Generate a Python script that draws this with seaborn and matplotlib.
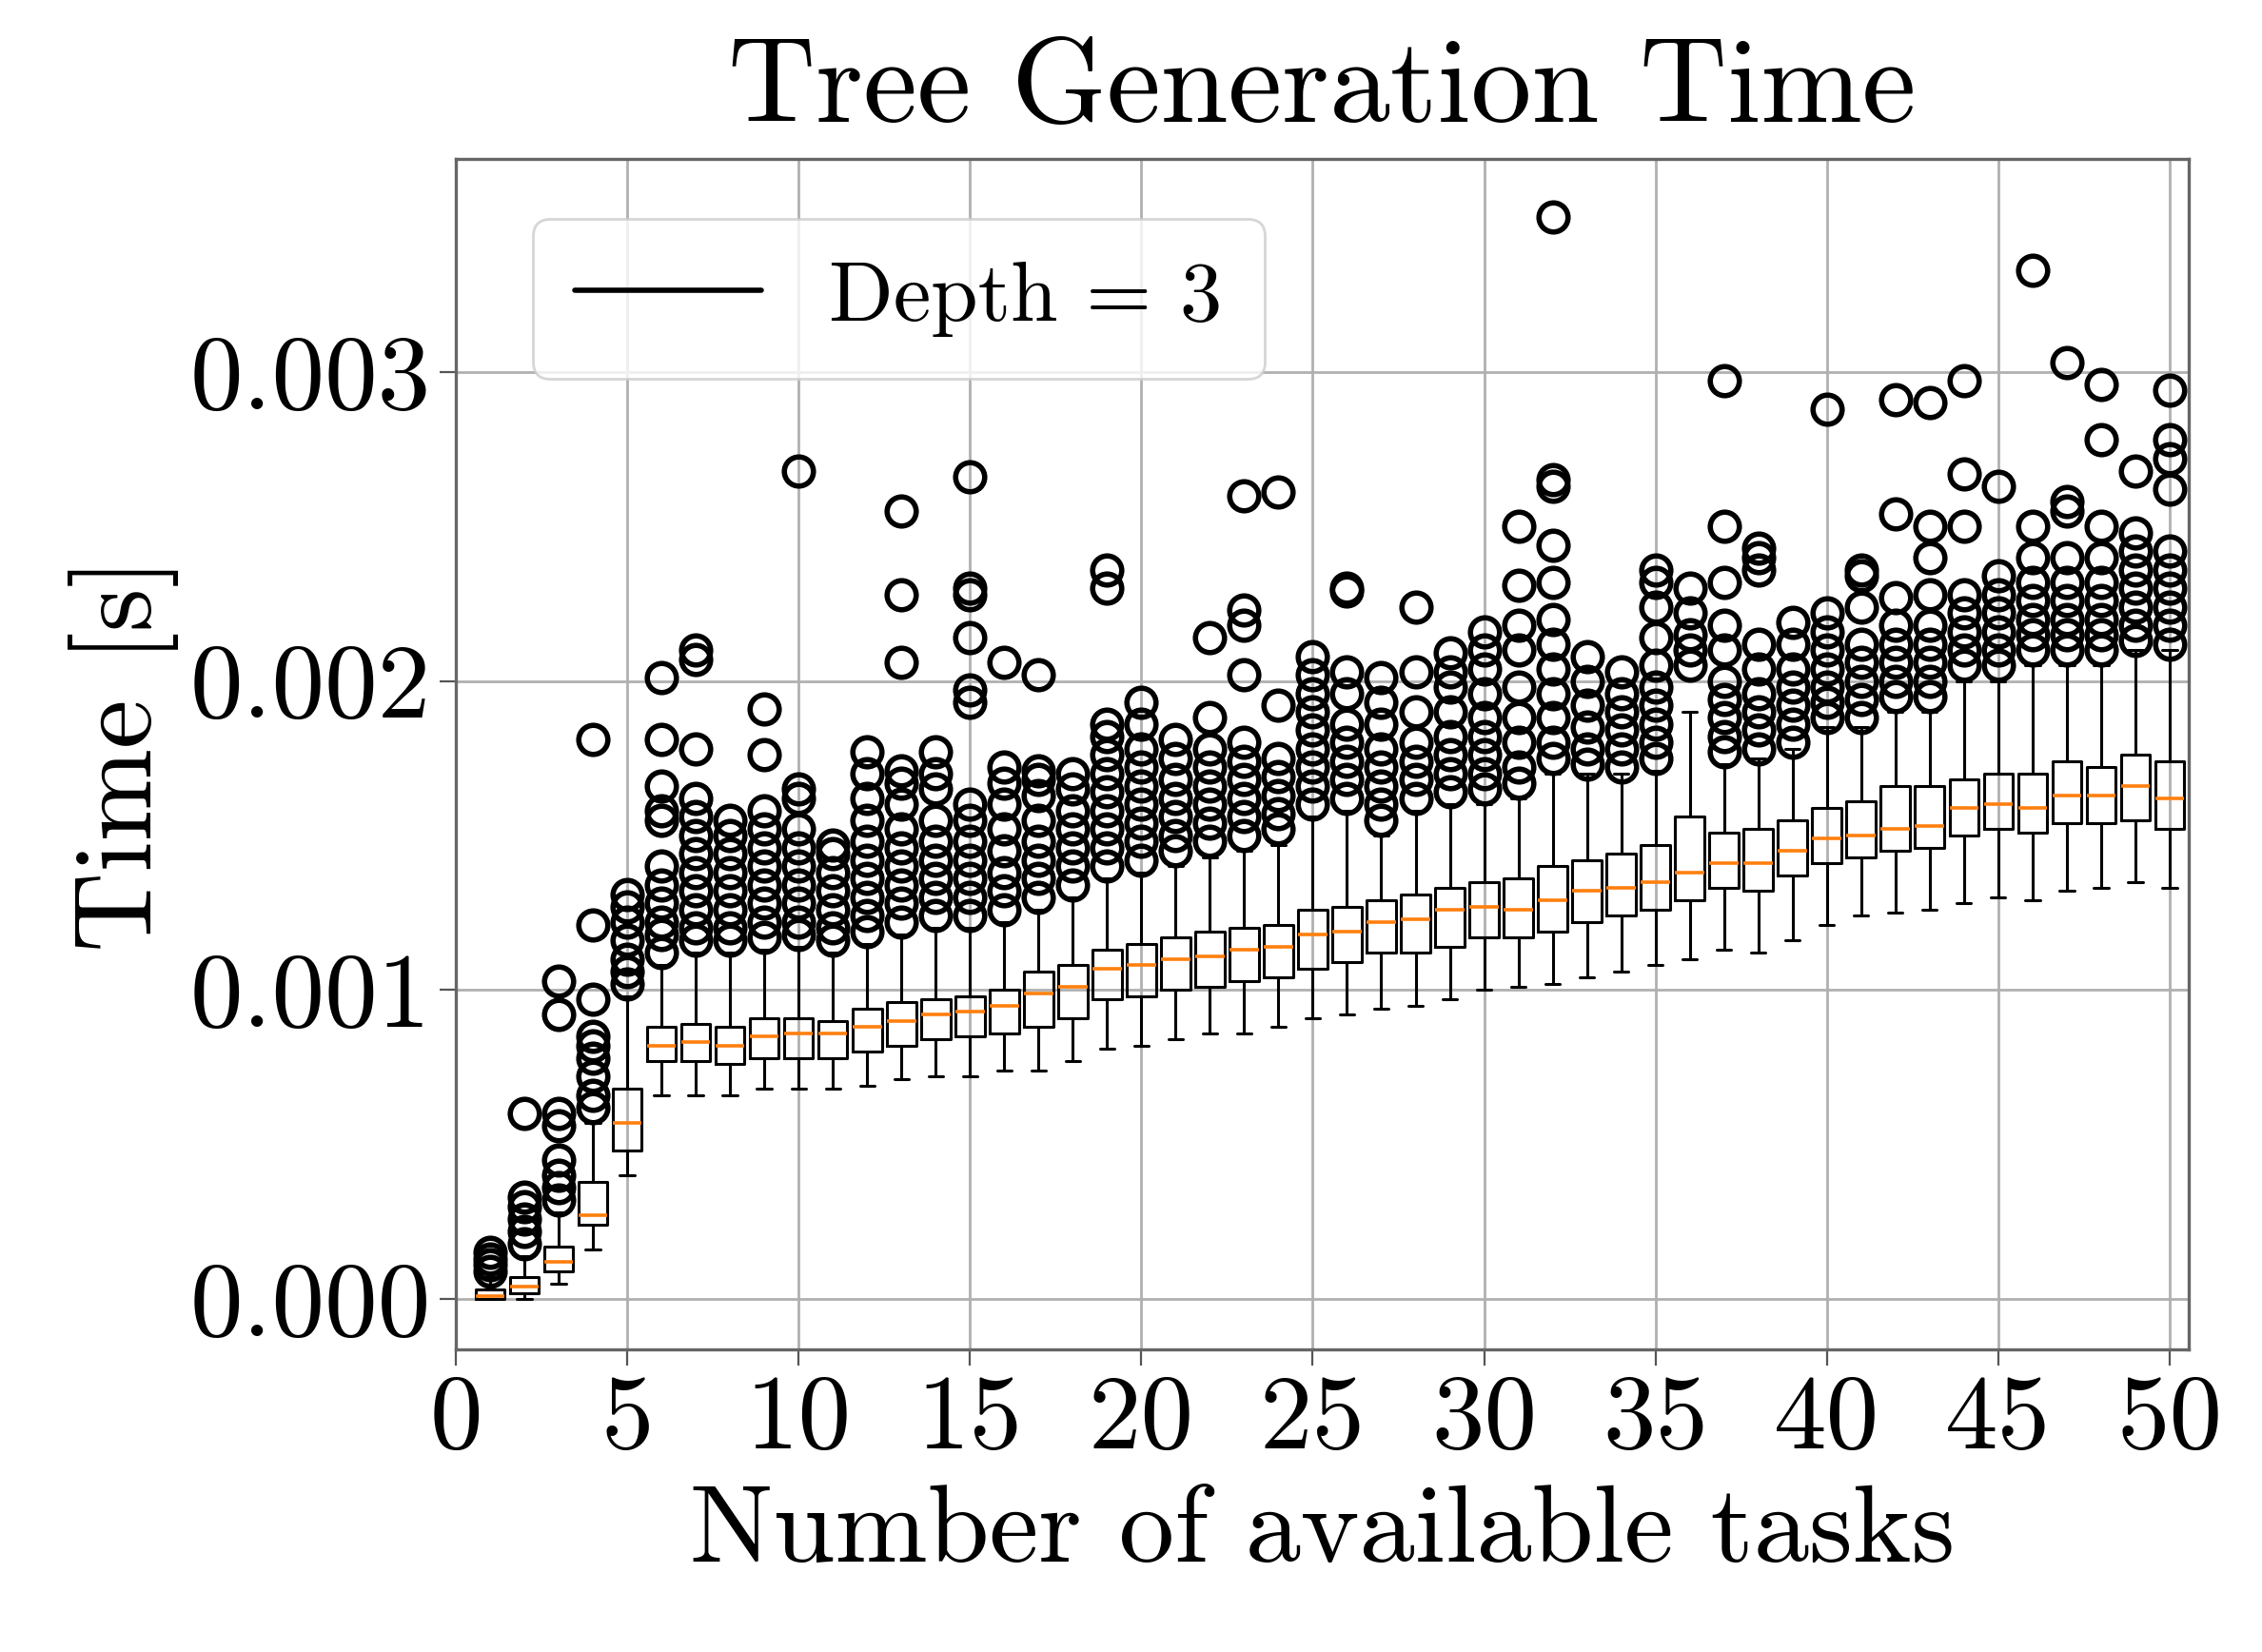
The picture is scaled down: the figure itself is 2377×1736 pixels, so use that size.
import numpy as np
import matplotlib
matplotlib.use("Agg")
import matplotlib.pyplot as plt
import seaborn as sns

# values in units of 1e-5 s
tasks = list(range(1, 51))
med = [1,4,12,27,57,82,83,82,85,86,86,88,90,92,93,95,99,101,107,108,110,111,113,114,118,119,122,123,126,127,
       126,129,132,133,135,138,141,141,145,149,150,152,153,159,160,159,163,163,166,162]
q1 = [0,2,9,24,48,77,77,76,78,78,78,80,82,84,85,86,88,91,97,98,100,101,103,104,107,109,112,112,114,117,
      117,119,122,124,126,129,133,132,137,141,143,145,146,150,152,151,154,154,155,152]
q3 = [3,7,17,38,68,88,89,88,91,91,90,94,96,97,98,100,106,108,113,115,117,119,120,121,126,127,129,131,133,135,
      136,140,142,144,147,156,151,152,155,159,161,166,166,168,170,170,174,172,176,174]
whis_lo = [0,0,5,16,40,66,66,66,68,68,68,69,71,72,72,74,74,77,81,82,84,86,86,88,91,92,94,95,97,100,
           101,102,104,106,108,110,113,112,116,121,124,125,126,128,130,129,132,133,135,133]
whis_hi = [7,14,28,57,98,108,112,112,113,114,112,115,118,120,120,122,126,130,136,138,140,143,145,147,156,158,150,158,160,160,
           162,170,170,170,171,190,173,175,178,185,185,190,190,200,200,205,205,205,210,210]
outliers = [
    [9,11,13,15],
    [18,22,26,30,33,60],
    [32,36,40,45,56,60,92,103],
    [62,66,72,78,82,85,97,121,181],
    [102,106,110,116,122,127,131],
    [112,118,122,128,134,140,155,158,166,181,201],
    [116,120,126,132,138,144,150,156,162,178,207,210],
    [116,120,126,132,138,144,150,155],
    [117,122,128,134,140,146,152,158,176,191],
    [118,122,128,134,140,146,152,162,165,268],
    [116,120,126,132,138,144,147],
    [119,124,130,136,142,148,155,162,170,177],
    [122,128,134,140,146,152,160,167,171,206,228,255],
    [124,130,136,142,148,155,165,170,177],
    [124,130,136,142,148,155,160,193,197,214,228,230,266],
    [126,132,138,145,152,160,167,172,206],
    [130,136,142,148,155,163,168,171,202],
    [134,140,146,152,158,165,170],
    [140,146,152,158,164,170,176,182,186,230,236],
    [142,148,154,160,166,172,178,186,193],
    [145,150,156,162,168,175,181],
    [148,154,160,166,172,178,188,214],
    [150,156,162,168,174,180,202,218,223,260],
    [152,157,163,169,175,192,261],
    [160,166,172,178,184,190,196,202,208],
    [162,168,174,180,186,196,203,229,230],
    [155,160,166,172,178,186,193,201],
    [162,168,174,180,190,203,224],
    [164,170,176,182,190,198,203,209],
    [165,170,176,182,188,196,204,210,216],
    [167,172,180,188,198,210,218,231,250],
    [175,180,188,196,204,212,220,232,244,263,265,350],
    [173,178,185,192,200,208],
    [172,178,184,190,196,203],
    [175,180,186,192,198,205,214,224,232,236],
    [205,210,215,222,230],
    [177,182,188,194,200,210,218,232,250,297],
    [178,184,190,196,204,212,236,240,243],
    [180,186,192,198,204,212,219],
    [188,193,198,204,210,216,222,288],
    [188,194,200,206,212,224,234,236],
    [195,200,206,212,218,227,254,291],
    [195,200,206,212,218,228,240,250,290],
    [205,210,216,222,228,250,267,297],
    [205,210,216,222,228,234,263],
    [210,215,220,226,232,240,250,333],
    [210,215,220,226,232,240,255,258,303],
    [210,215,220,226,232,240,250,278,296],
    [213,218,224,230,236,242,248,268],
    [212,218,224,230,236,242,262,272,278,294],
]

sns.set_style("whitegrid")
plt.rcParams['font.family'] = ['serif']
plt.rcParams['font.serif'] = ['cmr10', 'DejaVu Serif']
plt.rcParams['mathtext.fontset'] = 'cm'
plt.rcParams['axes.unicode_minus'] = False
for k in ['text.color', 'axes.labelcolor', 'xtick.color', 'ytick.color']:
    plt.rcParams[k] = 'black'

fig = plt.figure(figsize=(2377/200, 1736/200), dpi=200)
ax = fig.add_axes([0.2015, 0.183, 0.766, 0.721])

scale = 1e-5
stats = []
for i in range(len(tasks)):
    stats.append({
        'med': med[i]*scale, 'q1': q1[i]*scale, 'q3': q3[i]*scale,
        'whislo': whis_lo[i]*scale, 'whishi': whis_hi[i]*scale,
        'fliers': np.array(outliers[i])*scale,
    })

ax.bxp(stats, positions=tasks, widths=0.85, manage_ticks=False,
       boxprops=dict(color='black', linewidth=1.1),
       whiskerprops=dict(color='black', linewidth=1.1),
       capprops=dict(color='black', linewidth=1.1),
       medianprops=dict(color='#ff7f0e', linewidth=1.3),
       flierprops=dict(marker='o', markerfacecolor='none', markeredgecolor='black',
                       markersize=11, markeredgewidth=2.0))

ax.plot([], [], color='black', linewidth=2, label='Depth = 3')
ax.legend(loc='upper left', fontsize=32, frameon=True, fancybox=True,
          borderpad=0.5, handlelength=2.2, bbox_to_anchor=(0.02, 0.985))

ax.set_xlim(0, 50.55)
ax.set_ylim(-0.000164, 0.00369)
ax.set_xticks(range(0, 51, 5))
ax.set_xticklabels([str(v) for v in range(0, 51, 5)])
ax.set_yticks([0, 0.001, 0.002, 0.003])
ax.set_yticklabels(['0.000', '0.001', '0.002', '0.003'])
ax.tick_params(axis='both', labelsize=40, length=6, color='#555555', direction='out', bottom=True, left=True)
ax.grid(True, color='#b0b0b0', linewidth=1.0)
for s in ax.spines.values():
    s.set_color('#666666')
    s.set_linewidth(1.2)

ax.set_title('Tree Generation Time', fontsize=46, pad=14)
ax.set_xlabel('Number of available tasks', fontsize=42, labelpad=6)
ax.set_ylabel('Time [s]', fontsize=42)

fig.savefig('out.png', dpi=200)
